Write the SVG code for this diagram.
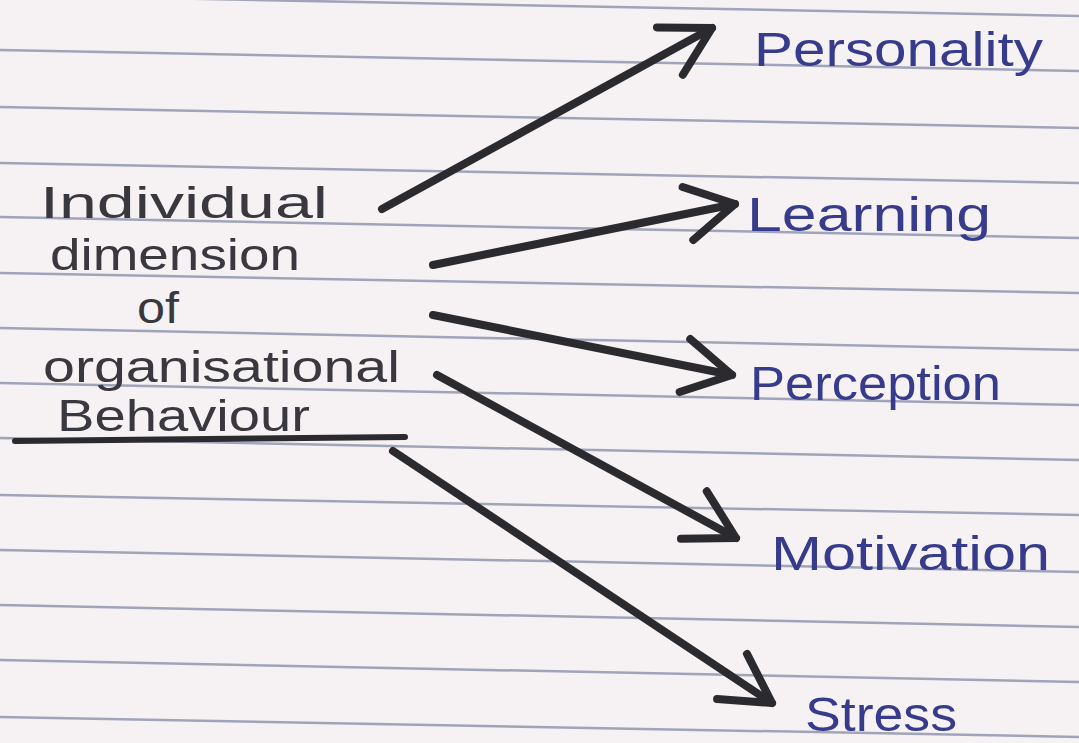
<svg xmlns="http://www.w3.org/2000/svg" width="1079" height="743" viewBox="0 0 1079 743">
<style>
.paper{fill:#f6f1f3}
.rule{stroke:#9097b0;stroke-width:2.5;fill:none;opacity:0.85}
.src{font-family:"Liberation Sans",Arial,sans-serif;font-size:45px;fill:#3a383f}
.tgt{font-family:"Liberation Sans",Arial,sans-serif;font-size:48px;fill:#363b8c}
.arrow{stroke:#2b2a2e;stroke-width:8;stroke-linecap:round;fill:none}
.head{stroke:#2b2a2e;stroke-width:8;stroke-linecap:round;stroke-linejoin:round;fill:none}
</style>
<defs>
<marker id="chev" markerUnits="userSpaceOnUse" markerWidth="80" markerHeight="80" viewBox="-60 -40 70 80" refX="0" refY="0" orient="auto">
<path class="head" d="M-48,-27 L0,0 L-48,27"/>
</marker>
</defs>
<rect class="paper" x="0" y="0" width="1079" height="743"/>
<g id="ruling">
<path class="rule" d="M0,-5 L1079,16 M0,50 L1079,71 M0,107 L1079,128 M0,163 L1079,183 M0,217 L1079,238 M0,273 L1079,293 M0,328 L1079,350 M0,383 L1079,405 M0,438 L1079,460 M0,495 L1079,515 M0,550 L1079,572 M0,605 L1079,627 M0,660 L1079,682 M0,717 L1079,737"/>
</g>
<g id="source">
<text class="src" x="40" y="218" textLength="288" lengthAdjust="spacingAndGlyphs">Individual</text>
<text class="src" x="50" y="270" textLength="250" lengthAdjust="spacingAndGlyphs">dimension</text>
<text class="src" x="137" y="323" textLength="42" lengthAdjust="spacingAndGlyphs">of</text>
<text class="src" x="43" y="382" textLength="357" lengthAdjust="spacingAndGlyphs">organisational</text>
<text class="src" x="57" y="431" textLength="253" lengthAdjust="spacingAndGlyphs">Behaviour</text>
<path d="M15,441 L405,437" stroke="#2b2a2e" stroke-width="6" stroke-linecap="round"/>
</g>
<g id="connectors">
<path class="arrow" marker-end="url(#chev)" d="M382,209 L712,28"/>
<path class="arrow" marker-end="url(#chev)" d="M433,265 L735,204"/>
<path class="arrow" marker-end="url(#chev)" d="M433,315 L732,375"/>
<path class="arrow" marker-end="url(#chev)" d="M437,375 L736,538"/>
<path class="arrow" marker-end="url(#chev)" d="M393,451 L772,703"/>
</g>
<g id="personality"><text class="tgt" x="754" y="66" textLength="289" lengthAdjust="spacingAndGlyphs">Personality</text></g>
<g id="learning"><text class="tgt" x="747" y="231" textLength="244" lengthAdjust="spacingAndGlyphs">Learning</text></g>
<g id="perception"><text class="tgt" x="750" y="400" textLength="251" lengthAdjust="spacingAndGlyphs">Perception</text></g>
<g id="motivation"><text class="tgt" x="771" y="570" textLength="279" lengthAdjust="spacingAndGlyphs">Motivation</text></g>
<g id="stress"><text class="tgt" x="805" y="731" textLength="152" lengthAdjust="spacingAndGlyphs">Stress</text></g>
</svg>
